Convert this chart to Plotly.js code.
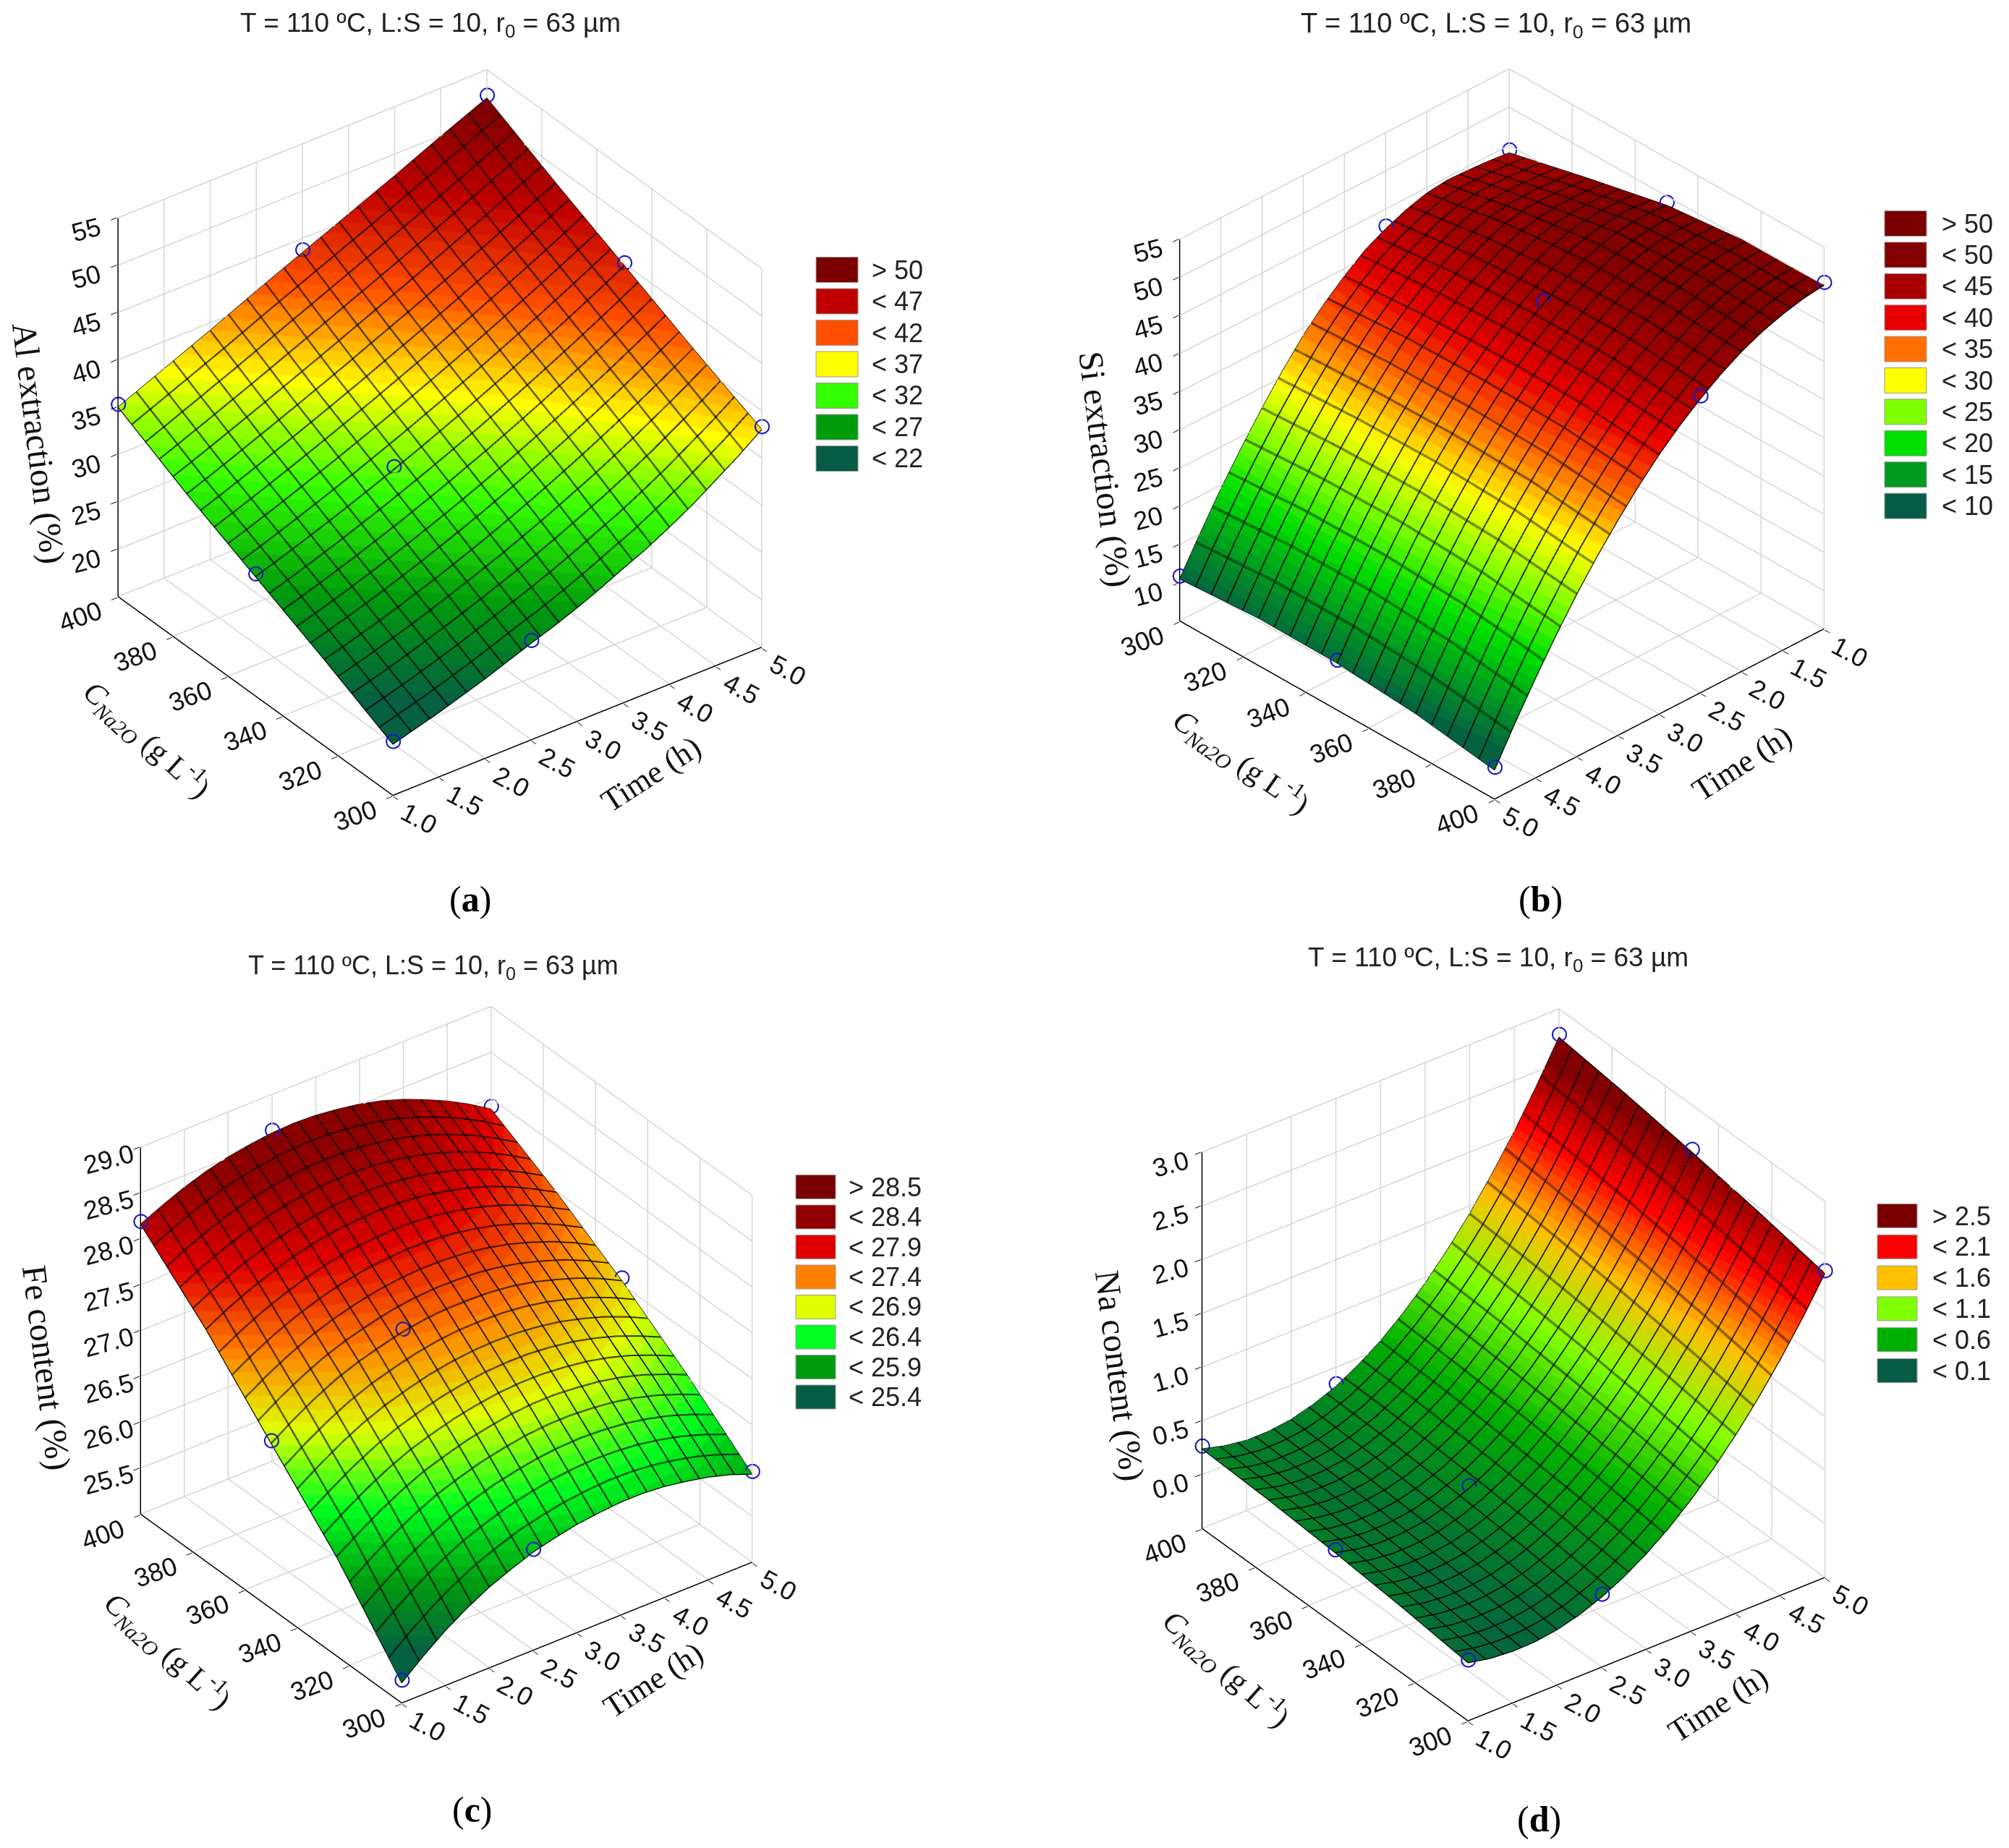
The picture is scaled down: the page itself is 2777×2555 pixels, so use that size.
<!DOCTYPE html>
<html><head><meta charset="utf-8">
<script src="https://cdn.plot.ly/plotly-3.0.1.min.js"></script>
<style>html,body{margin:0;padding:0;background:#fff}#g{width:2777px;height:2555px}</style>
</head><body><div id="g"></div>
<script>
const timeGrid=[1,1.25,1.5,1.75,2,2.25,2.5,2.75,3,3.25,3.5,3.75,4,4.25,4.5,4.75,5];
const concGrid=[300,325,350,375,400];
const timeTicks=[1,1.5,2,2.5,3,3.5,4,4.5,5];
const timeTickLabels=['1.0','1.5','2.0','2.5','3.0','3.5','4.0','4.5','5.0'];
const concTicks=[300,320,340,360,380,400];
const alZ=[
[20.4,21.1,21.8,22.6,23.4,24.3,25.2,26.05,27,28.05,29.2,30.3,31.6,33,34.6,36.2,38],
[24.1,24.8,25.55,26.35,27.21,28.1,29.06,30.05,31.11,32.2,33.36,34.55,35.81,37.1,38.45,39.85,41.3],
[27.6,28.42,29.28,30.17,31.1,32.05,33.05,34.07,35.14,36.22,37.35,38.5,39.7,40.92,42.18,43.47,44.8],
[31.1,32.03,33,34,35,36.02,37.05,38.1,39.2,40.27,41.35,42.47,43.6,44.74,45.9,47.1,48.3],
[35,36.05,37.1,38.15,39.2,40.3,41.4,42.45,43.5,44.55,45.6,46.65,47.7,48.8,49.9,50.95,52]];
const siZ=[
[44,44.3,44.5,44.6,44.3,43.5,42.4,41,39,36.7,34,30.8,27.3,23.5,19.5,15.1,10.5],
[46.5,46.7,46.8,46.7,46.2,45.1,43.6,41.9,39.8,37.4,34.5,31.35,27.9,24.15,20.13,15.82,11.21],
[48.8,49,48.8,48.25,47.25,45.9,44.25,42.33,40.1,37.52,34.65,31.5,28.05,24.27,20.2,15.82,11.15],
[49.9,49.8,49.36,48.56,47.46,46.01,44.26,42.25,39.93,37.27,34.31,31.09,27.56,23.7,19.53,15.1,10.36],
[50,49.65,49,48.1,46.9,45.35,43.5,41.4,39,36.25,33.2,29.9,26.3,22.35,18.1,13.6,8.8]];
const feZ=[
[25.22,25.42,25.6,25.75,25.88,25.98,26.07,26.13,26.18,26.21,26.23,26.23,26.21,26.17,26.12,26.05,25.96],
[26.08,26.24,26.39,26.52,26.63,26.71,26.78,26.83,26.87,26.89,26.89,26.87,26.84,26.79,26.72,26.63,26.53],
[26.8,26.96,27.1,27.22,27.31,27.38,27.44,27.48,27.5,27.5,27.49,27.46,27.41,27.34,27.26,27.16,27.04],
[27.53,27.66,27.77,27.86,27.94,28,28.04,28.06,28.07,28.06,28.03,27.98,27.92,27.84,27.74,27.62,27.49],
[28.16,28.27,28.37,28.45,28.51,28.55,28.58,28.59,28.58,28.55,28.51,28.45,28.37,28.27,28.16,28.03,27.88]];
const naZ=[
[0.04,-0.003,-0.02,-0.015,0.015,0.071,0.152,0.258,0.388,0.543,0.724,0.929,1.159,1.414,1.694,1.998,2.328],
[0.113,0.066,0.045,0.05,0.079,0.136,0.217,0.325,0.458,0.618,0.802,1.013,1.25,1.512,1.8,2.114,2.454],
[0.17,0.12,0.095,0.1,0.128,0.185,0.266,0.377,0.512,0.676,0.864,1.082,1.324,1.594,1.889,2.213,2.562],
[0.213,0.16,0.132,0.135,0.162,0.22,0.302,0.415,0.552,0.72,0.913,1.136,1.384,1.663,1.966,2.3,2.658],
[0.24,0.184,0.153,0.154,0.18,0.238,0.32,0.436,0.576,0.748,0.945,1.174,1.428,1.714,2.025,2.368,2.736]];
const alTicks=[20,25,30,35,40,45,50,55], siTicks=[10,15,20,25,30,35,40,45,50,55];
const feTicks=[25.5,26,26.5,27,27.5,28,28.5,29], naTicks=[0,0.5,1,1.5,2,2.5,3];
const feTickLabels=['25.5','26.0','26.5','27.0','27.5','28.0','28.5','29.0'];
const naTickLabels=['0.0','0.5','1.0','1.5','2.0','2.5','3.0'];
const alLevels=[22,27,32,37,42,47,52], siLevels=[10,15,20,25,30,35,40,44,48,55];
const feLevels=[25.4,25.9,26.4,26.9,27.4,27.9,28.4,28.9], naLevels=[-0.1,0.6,1.1,1.6,2.1,2.6];
const alColors=['#065c45','#009c0c','#33ff00','#ffff00','#ff5000','#c00000','#7a0000'];
const siColors=['#065c45','#009a20','#00e000','#80ff00','#ffff00','#ff7000','#e80000','#a80000','#820000','#7a0000'];
const feColors=['#065c45','#009a10','#00ff20','#e0ff00','#ff8000','#e00000','#900000','#7a0000'];
const naColors=['#065c45','#00b000','#80ff00','#ffc000','#ff0000','#7a0000'];
const alLegend=['> 50','< 47','< 42','< 37','< 32','< 27','< 22'];
const siLegend=['> 50','< 50','< 45','< 40','< 35','< 30','< 25','< 20','< 15','< 10'];
const feLegend=['> 28.5','< 28.4','< 27.9','< 27.4','< 26.9','< 26.4','< 25.9','< 25.4'];
const naLegend=['> 2.5','< 2.1','< 1.6','< 1.1','< 0.6','< 0.1'];
const W=2777,H=2555,TICKFONT='Liberation Sans',TITLEFONT='Liberation Serif';
const headline='T = 110 ºC, L:S = 10, r<sub>0</sub> = 63 µm';
const eyeDirA=[-0.503,-0.675,0.539], eyeDirB=[0.58,0.607,0.54];
const panels=[
 {id:'scene',z:alZ,lv:alLevels,col:alColors,leg:alLegend,zr:[15,55],zt:alTicks,ztl:alTicks.map(String),zname:'Al extraction (%)',
  dom:[18,8,1180],dir:eyeDirA,asp:[1.082,1.058],mx:[1,2.5,5,1,2.5,5,1,3,5],my:[300,300,300,350,350,350,400,400,400],
  xe:300,ye:1,ze:[1,400],farX:5,farY:400,lx:[1128,1186],ly:373,ls:43.5,lh:35,tx:1203,title:[595,34,37],letter:['a',650,1243],
  tOff:[102,73,-33],cOff:[-150,60,42],zOff:[-110,50,83]},
 {id:'scene2',z:siZ,lv:siLevels,col:siColors,leg:siLegend,zr:[5,55],zt:siTicks,ztl:siTicks.map(String),zname:'Si extraction (%)',
  dom:[1486,10,1180],dir:eyeDirB,asp:[1.072,1.068],mx:[1,2.5,5,1,2.5,5,1,2.5,5],my:[300,300,300,350,350,350,400,400,400],
  xe:400,ye:5,ze:[5,300],farX:1,farY:300,lx:[2605,2663],ly:309,ls:43.4,lh:35,tx:2682,title:[2068,35,38],letter:['b',2129,1243],
  tOff:[114,68,-33],cOff:[-132,71,35],zOff:[-103,54,83]},
 {id:'scene3',z:feZ,lv:feLevels,col:feColors,leg:feLegend,zr:[25,29],zt:feTicks,ztl:feTickLabels,zname:'Fe content (%)',
  dom:[27,1283,1180],dir:eyeDirA,asp:[1.028,1.025],mx:[1,2.5,5,1,2.5,5,1,2.5,5],my:[300,300,300,350,350,350,400,400,400],
  xe:300,ye:1,ze:[1,400],farX:5,farY:400,lx:[1100,1155],ly:1641,ls:41.5,lh:33,tx:1171,title:[599,1337,36],letter:['c',653,2502],
  tOff:[106,65,-33],cOff:[-143,58,42],zOff:[-130,51,83]},
 {id:'scene4',z:naZ,lv:naLevels,col:naColors,leg:naLegend,zr:[-0.5,3],zt:naTicks,ztl:naTickLabels,zname:'Na content (%)',
  dom:[1502,1297,1180],dir:eyeDirA,asp:[1.047,1.051],mx:[1,2.5,5,1,2.5,5,1,2.5,5],my:[300,300,300,350,350,350,400,400,400],
  xe:300,ye:1,ze:[1,400],farX:5,farY:400,lx:[2595,2650],ly:1681,ls:42.8,lh:33,tx:2669,title:[2071,1326,37],letter:['d',2127,2515],
  tOff:[99,76,-33],cOff:[-150,61,42],zOff:[-114,49,83]}
];
function hex(c){return [1,3,5].map(i=>parseInt(c.substr(i,2),16));}
function banded(lv,col){
  const steps=45,out=[],span=lv[lv.length-1]-lv[0];
  for(let i=0;i<steps;i++){
    const v=lv[0]+span*(i+0.5)/steps;
    let a=0;while(a<lv.length-2&&v>lv[a+1])a++;
    const t=(v-lv[a])/(lv[a+1]-lv[a]),A=hex(col[a]),B=hex(col[a+1]);
    const c='rgb('+A.map((u,k)=>Math.round(u+(B[k]-u)*t)).join(',')+')';
    out.push([i/steps,c],[(i+1)/steps,c]);
  }
  return out;
}
const data=[],layout={width:W,height:H,margin:{l:0,r:0,t:0,b:0},paper_bgcolor:'#fff',showlegend:false,annotations:[],shapes:[]};
function px(x){return x/W} function py(y){return 1-y/H}
function pad(r){const d=(r[1]-r[0])*0.002;return [r[0]-d,r[1]+d];}
function axis(range,vals){return {range:pad(range),tickmode:'array',tickvals:vals,showticklabels:false,title:{text:''},showgrid:false,
  zeroline:false,showline:false,ticks:'outside',ticklen:10,tickcolor:'#000',tickwidth:2,showbackground:false,showspikes:false};}
function lines(scene,segs,color,width){
  const X=[],Y=[],Z=[];
  segs.forEach(s=>{s.forEach(q=>{X.push(q[0]);Y.push(q[1]);Z.push(q[2]);});X.push(null);Y.push(null);Z.push(null);});
  return {type:'scatter3d',scene,mode:'lines',x:X,y:Y,z:Z,connectgaps:false,hoverinfo:'skip',line:{color,width}};
}
panels.forEach(p=>{
  const zmin=p.zr[0],zmax=p.zr[1],x0=1,x1=5,y0=300,y1=400;
  const grid=[];
  timeTicks.forEach(t=>{grid.push([[t,y0,zmin],[t,y1,zmin]]);grid.push([[t,p.farY,zmin],[t,p.farY,zmax]]);});
  concTicks.forEach(c=>{grid.push([[x0,c,zmin],[x1,c,zmin]]);grid.push([[p.farX,c,zmin],[p.farX,c,zmax]]);});
  p.zt.forEach(v=>{grid.push([[x0,p.farY,v],[x1,p.farY,v]]);grid.push([[p.farX,y0,v],[p.farX,y1,v]]);});
  data.push(lines(p.id,grid,'#d6d6d6',3));
  const cs=banded(p.lv,p.col);
  const contour=(dx,dy)=>({x:{show:true,start:1.2+dx,end:4.81+dx,size:0.2,color:'#000',width:1,highlight:false},y:{show:true,start:305+dy,end:395.5+dy,size:5,color:'#000',width:1,highlight:false},z:{show:false,highlight:false}});
  data.push({type:'surface',scene:p.id,x:timeGrid,y:concGrid,z:p.z,colorscale:cs,cmin:p.lv[0],cmax:p.lv[p.lv.length-1],showscale:false,hoverinfo:'skip',
    lighting:{ambient:1,diffuse:0,specular:0,roughness:1,fresnel:0},contours:contour(0,0)});
  [[0.005,0.125],[-0.005,-0.125]].forEach(o=>data.push({type:'surface',scene:p.id,x:timeGrid,y:concGrid,z:p.z,hidesurface:true,colorscale:cs,cmin:p.lv[0],cmax:p.lv[p.lv.length-1],showscale:false,hoverinfo:'skip',contours:contour(o[0],o[1])}));
  const n=timeGrid.length-1,m=concGrid.length-1;
  data.push(lines(p.id,[
    timeGrid.map((t,i)=>[t,y0,p.z[0][i]]),timeGrid.map((t,i)=>[t,y1,p.z[m][i]]),
    concGrid.map((c,j)=>[x0,c,p.z[j][0]]),concGrid.map((c,j)=>[x1,c,p.z[j][n]])],'#000',2.5));
  data.push(lines(p.id,[[[x0,p.xe,zmin],[x1,p.xe,zmin]],[[p.ye,y0,zmin],[p.ye,y1,zmin]],[[p.ze[0],p.ze[1],zmin],[p.ze[0],p.ze[1],zmax]]],'#000',3));
  const mz=p.mx.map((x,i)=>p.z[concGrid.indexOf(p.my[i])][timeGrid.indexOf(x)]+(zmax-zmin)*0.008);
  data.push({type:'scatter3d',scene:p.id,mode:'markers',x:p.mx,y:p.my,z:mz,hoverinfo:'skip',marker:{symbol:'circle-open',size:12,color:'#1818c8'}});
  const lab=(x,y,z,text,dx,dy,ang,font,size)=>({x,y,z,text,showarrow:false,xshift:dx,yshift:-dy,textangle:ang,font:{family:font,size,color:'#111'},xanchor:'center',yanchor:'middle'});
  const anns=[];
  timeTicks.forEach((t,i)=>anns.push(lab(t,p.xe,zmin,timeTickLabels[i],36,32,28,TICKFONT,36)));
  concTicks.forEach(c=>anns.push(lab(p.ye,c,zmin,String(c),-52,28,-20,TICKFONT,36)));
  p.zt.forEach((v,i)=>anns.push(lab(p.ze[0],p.ze[1],v,p.ztl[i],-44,16,-15,TICKFONT,36)));
  anns.push(lab(3,p.xe,zmin,'Time (h)',p.tOff[0],p.tOff[1],p.tOff[2],TITLEFONT,44));
  anns.push(lab(p.ye,350,zmin,'<i>C</i><sub><i>Na2O</i></sub> (g L<sup>-1</sup>)',p.cOff[0],p.cOff[1],p.cOff[2],TITLEFONT,42));
  anns.push(lab(p.ze[0],p.ze[1],(zmin+zmax)/2,p.zname,p.zOff[0],p.zOff[1],p.zOff[2],TITLEFONT,48));
  const r=2;
  layout[p.id]={domain:{x:[px(p.dom[0]),px(p.dom[0]+p.dom[2])],y:[py(p.dom[1]+p.dom[2]),py(p.dom[1])]},
    xaxis:axis([1,5],timeTicks),yaxis:axis([300,400],concTicks),zaxis:axis(p.zr,p.zt),
    aspectmode:'manual',aspectratio:{x:p.asp[0],y:p.asp[0],z:p.asp[1]},
    camera:{eye:{x:p.dir[0]*r,y:p.dir[1]*r,z:p.dir[2]*r},center:{x:0,y:0,z:0},up:{x:0,y:0,z:1},projection:{type:'orthographic'}},annotations:anns};
  p.leg.forEach((t,i)=>{
    const yc=p.ly+i*p.ls;
    layout.shapes.push({type:'rect',xref:'paper',yref:'paper',x0:px(p.lx[0]),x1:px(p.lx[1]),y0:py(yc+p.lh/2),y1:py(yc-p.lh/2),fillcolor:p.col[p.col.length-1-i],line:{color:'#999',width:1}});
    layout.annotations.push({xref:'paper',yref:'paper',x:px(p.tx),y:py(yc),text:t,showarrow:false,xanchor:'left',yanchor:'middle',font:{family:TICKFONT,size:36,color:'#222'}});
  });
  layout.annotations.push({xref:'paper',yref:'paper',x:px(p.title[0]),y:py(p.title[1]),text:headline,showarrow:false,xanchor:'center',yanchor:'middle',font:{family:TICKFONT,size:p.title[2],color:'#222'}});
  layout.annotations.push({xref:'paper',yref:'paper',x:px(p.letter[1]),y:py(p.letter[2]),text:'(<b>'+p.letter[0]+'</b>)',showarrow:false,xanchor:'center',yanchor:'middle',font:{family:TITLEFONT,size:50,color:'#000'}});
});
window.addEventListener('load',()=>setTimeout(()=>Plotly.newPlot('g',data,layout,{displayModeBar:false}),0));
</script></body></html>
